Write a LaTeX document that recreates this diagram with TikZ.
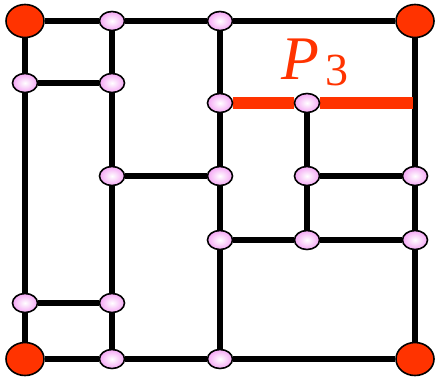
\documentclass[tikz,border=0pt]{standalone}
\usepackage{fontspec}
\setmainfont{Liberation Serif}
\usetikzlibrary{backgrounds,shapes.geometric}
\definecolor{ptred}{HTML}{FF3300}
\definecolor{ptpink}{HTML}{F4A6F4}
\begin{document}
\begin{tikzpicture}[
  x=1pt, y=-1pt,
  vtx/.style={ellipse, draw=black, line width=1.6pt, inner sep=0pt,
              minimum width=25pt, minimum height=19pt,
              inner color=white, outer color=ptpink},
  crn/.style={ellipse, draw=black, line width=1.6pt, inner sep=0pt,
              minimum width=38pt, minimum height=33pt, fill=ptred},
  edge/.style={line width=6.3pt, black},
  hot/.style={line width=12pt, ptred},
]
\useasboundingbox (0,0) rectangle (436,383);
% corners
\node[crn] (c1) at (25,21) {};
\node[crn] (c2) at (415,21) {};
\node[crn] (c3) at (25,359) {};
\node[crn] (c4) at (415,359) {};
% column x=25
\node[vtx] (a1) at (25,83) {};
\node[vtx] (a2) at (25,303) {};
% column x=112
\node[vtx] (t1) at (112,21) {};
\node[vtx] (b1) at (112,83) {};
\node[vtx] (b2) at (112,176) {};
\node[vtx] (b3) at (112,303) {};
\node[vtx] (u1) at (112,359) {};
% column x=220
\node[vtx] (t2) at (220,21) {};
\node[vtx] (m1) at (220,103) {};
\node[vtx] (m2) at (220,176) {};
\node[vtx] (m3) at (220,240) {};
\node[vtx] (u2) at (220,359) {};
% column x=307
\node[vtx] (p1) at (307,103) {};
\node[vtx] (p2) at (307,176) {};
\node[vtx] (p3) at (307,240) {};
% column x=415
\node[vtx] (q1) at (415,176) {};
\node[vtx] (q2) at (415,240) {};
\coordinate (r3) at (413,103);

\node[anchor=base west, inner sep=0pt, text=ptred] (lab) at (281,79)
  {{\fontsize{62}{62}\selectfont\itshape P}\hspace{6pt}\raisebox{-6pt}{\fontsize{46}{46}\selectfont 3}};

\begin{scope}[on background layer]
  \draw[edge] (c1) -- (t1) -- (t2) -- (c2);
  \draw[edge] (c3) -- (u1) -- (u2) -- (c4);
  \draw[edge] (c1) -- (a1) -- (a2) -- (c3);
  \draw[edge] (t1) -- (b1) -- (b2) -- (b3) -- (u1);
  \draw[edge] (t2) -- (m1) -- (m2) -- (m3) -- (u2);
  \draw[edge] (p1) -- (p2) -- (p3);
  \draw[edge] (c2) -- (q1) -- (q2) -- (c4);
  \draw[edge] (a1) -- (b1);
  \draw[edge] (a2) -- (b3);
  \draw[edge] (b2) -- (m2);
  \draw[edge] (p2) -- (q1);
  \draw[edge] (m3) -- (p3) -- (q2);
  \draw[hot] (m1) -- (p1) -- (r3);
\end{scope}
\end{tikzpicture}
\end{document}
